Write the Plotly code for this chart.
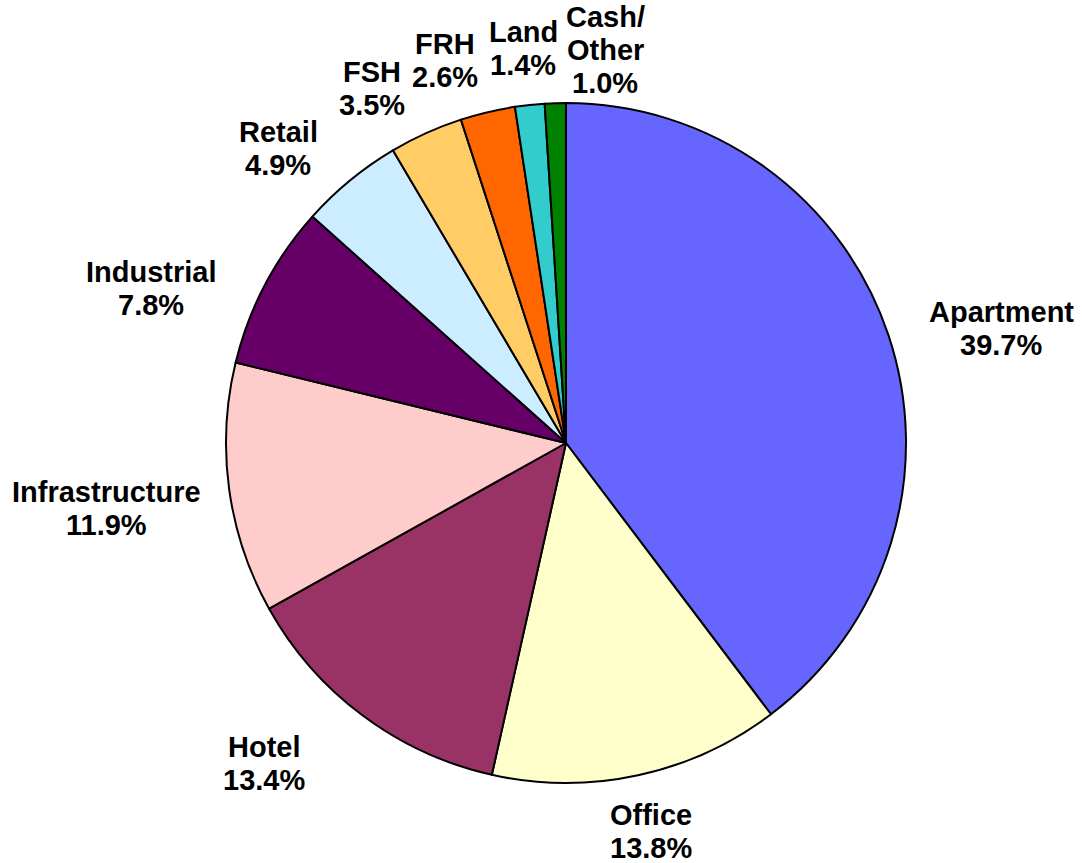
import plotly.graph_objects as go

categories = ["Apartment", "Office", "Hotel", "Infrastructure", "Industrial",
              "Retail", "FSH", "FRH", "Land", "Cash/Other"]
label_lines = [["Apartment"], ["Office"], ["Hotel"], ["Infrastructure"], ["Industrial"],
               ["Retail"], ["FSH"], ["FRH"], ["Land"], ["Cash/", "Other"]]
values = [39.7, 13.8, 13.4, 11.9, 7.8, 4.9, 3.5, 2.6, 1.4, 1.0]
colors = ["#6666FF", "#FFFFCC", "#993366", "#FFCCCC", "#660066",
          "#CCECFF", "#FFCC66", "#FF6600", "#33CCCC", "#008000"]

# label placement (pixel position of the first text line centre) - layout only
W, H = 1082, 863
label_pos = [(1001, 312), (651, 815), (264, 747), (106, 492), (151, 272),
             (278, 132), (372, 72), (445, 44), (523, 32), (605, 17)]
line_pitch = 33
font = dict(family="Liberation Sans, Arial, sans-serif", size=29, color="black")

# pie placement: centre (566, 443), radius 340 px
cx, cy, r = 566, 443, 340

fig = go.Figure(go.Pie(
    labels=categories,
    values=values,
    sort=False,
    direction="clockwise",
    rotation=0,
    marker=dict(colors=colors, line=dict(color="black", width=2)),
    textinfo="none",
    hoverinfo="label+value",
    showlegend=False,
    domain=dict(x=[(cx - r) / W, (cx + r) / W],
                y=[1 - (cy + r) / H, 1 - (cy - r) / H]),
))

annotations = []
for lines, val, (px, py) in zip(label_lines, values, label_pos):
    all_lines = lines + [f"{val:.1f}%"]
    for k, txt in enumerate(all_lines):
        annotations.append(dict(
            x=px / W, y=1 - (py + k * line_pitch) / H,
            xref="paper", yref="paper",
            text=f"<b>{txt}</b>", showarrow=False,
            xanchor="center", yanchor="middle", font=font,
        ))

fig.update_layout(
    width=W, height=H,
    margin=dict(l=0, r=0, t=0, b=0),
    paper_bgcolor="white",
    plot_bgcolor="white",
    annotations=annotations,
)

fig.write_html("out.html",
               config={"displayModeBar": False},
               post_script="document.body.style.margin='0px';document.body.style.overflow='hidden';")
